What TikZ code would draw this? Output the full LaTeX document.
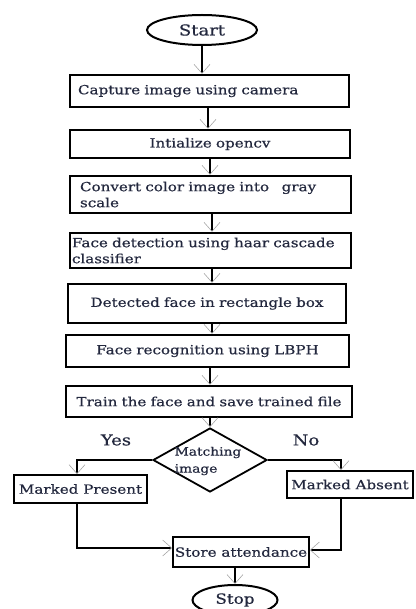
\documentclass[tikz,border=0pt]{standalone}
\usepackage{fontspec}
\setmainfont[FakeStretch=1.2, FakeBold=0.6]{DejaVu Serif}
\usetikzlibrary{shapes.geometric,arrows.meta}
\definecolor{inkblue}{RGB}{35,40,62}
\begin{document}
\begin{tikzpicture}[x=1pt, y=-1pt, font=\fontsize{12.6}{16}\selectfont,
  box/.style={draw, rectangle, line width=2.4pt, text=inkblue, inner sep=0pt},
  thinbox/.style={draw, rectangle, line width=1.8pt, text=inkblue, inner sep=0pt},
  term/.style={draw, ellipse, line width=2pt, text=inkblue, inner sep=0pt},
  arr/.style={line width=2.4pt, -{Straight Barb[length=9pt, width=16pt, line width=0.6pt, color=gray!70]}}]
\useasboundingbox (0,0) rectangle (415,609);
\node[term, minimum width=110, minimum height=30, font=\fontsize{15}{16}\selectfont] (start) at (202,30) {Start};
\node[box, minimum width=279, minimum height=32, text width=263, align=left] (capture) at (209.5,91) {Capture image using camera};
\node[box, minimum width=280, minimum height=28, text width=250, align=center] (init) at (210,144) {Intialize opencv};
\node[box, minimum width=281, minimum height=37, text width=261, align=left] (convert) at (210.5,194.5) {Convert color image into\ \ \ gray\\scale};
\node[box, minimum width=281, minimum height=35, text width=277, align=left] (detect) at (210.5,250.5) {Face detection using haar cascade\\classifier};
\node[box, minimum width=278, minimum height=39, text width=250, align=center] (rect) at (207,303.5) {Detected face in rectangle box};
\node[box, minimum width=283, minimum height=32, text width=250, align=center] (lbph) at (207.5,351) {Face recognition using LBPH};
\node[box, minimum width=286, minimum height=31, text width=282, align=center] (train) at (209,401.5) {Train the face and save trained file};
\node[draw, diamond, line width=1.8pt, minimum width=114, minimum height=64, inner sep=0pt] (match) at (210,460) {};
\node[text=inkblue, align=left, inner sep=0pt, font=\fontsize{11.5}{17}\selectfont] (matchtxt) at (208,461) {Matching\\image};
\node[text=inkblue, font=\fontsize{15}{16}\selectfont] (yes) at (116,440) {Yes};
\node[text=inkblue, font=\fontsize{15}{16}\selectfont] (no) at (306,440) {No};
\node[thinbox, minimum width=133, minimum height=28] (present) at (80.5,489) {Marked Present};
\node[thinbox, minimum width=126, minimum height=27] (absent) at (350,484.5) {Marked Absent};
\node[thinbox, minimum width=136, minimum height=30] (store) at (241,552) {Store attendance};
\node[term, minimum width=85, minimum height=30, font=\fontsize{14}{16}\selectfont] (stop) at (235,600) {Stop};
\draw[arr] (start.south) -- (start.south |- capture.north);
\draw[arr] ([xshift=-2pt]init.north |- capture.south) -- ([xshift=-2pt]init.north);
\draw[arr] (init.south) -- (init.south |- convert.north);
\draw[arr] ([xshift=1.5pt]convert.south) -- ([xshift=1.5pt]convert.south |- detect.north);
\draw[arr] ([xshift=1.5pt]detect.south) -- ([xshift=1.5pt]detect.south |- rect.north);
\draw[arr] ([xshift=5pt]rect.south) -- ([xshift=5pt]rect.south |- lbph.north);
\draw[arr] ([xshift=2.5pt]lbph.south) -- ([xshift=2.5pt]lbph.south |- train.north);
\draw[arr] (match.north |- train.south) -- (match.north);
\draw[arr] (match.west) -| ([xshift=-3.5pt]present.north);
\draw[arr] (match.east) -| ([xshift=-9pt]absent.north);
\draw[arr] ([xshift=-3.5pt]present.south) |- ([yshift=4pt]store.west);
\draw[arr] ([xshift=-9pt]absent.south) |- ([yshift=2pt]store.east);
\draw[arr] (store.south -| stop.north) -- (stop.north);
\end{tikzpicture}
\end{document}
